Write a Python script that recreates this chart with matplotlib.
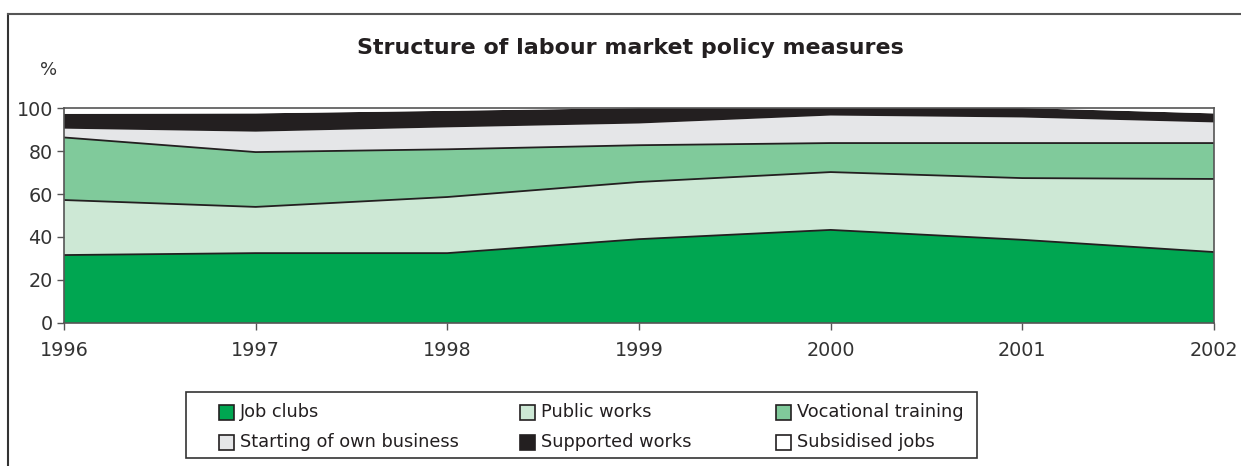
import numpy as np
import matplotlib.pyplot as plt
from matplotlib.patches import Rectangle
from matplotlib.lines import Line2D

plt.rcParams['font.family'] = ['DejaVu Sans']

years = [1996, 1997, 1998, 1999, 2000, 2001, 2002]

# shares of each measure, % of total
job_clubs = [31.6, 32.5, 32.5, 39.0, 43.3, 38.7, 33.0]
public_works = [25.6, 21.5, 26.1, 26.6, 26.9, 28.7, 34.0]
vocational_training = [29.1, 25.5, 22.2, 17.1, 13.5, 16.3, 16.7]
own_business = [4.1, 9.5, 10.2, 10.1, 12.8, 11.9, 9.6]
supported_works = [6.9, 8.5, 7.7, 7.2, 3.5, 4.4, 4.2]
subsidised_jobs = [2.7, 2.5, 1.3, 0.0, 0.0, 0.0, 2.5]

labels = ["Job clubs", "Public works", "Vocational training",
          "Starting of own business", "Supported works", "Subsidised jobs"]
colors = ["#00a651", "#cde8d5", "#80ca9b", "#e5e6e8", "#231f20", "#ffffff"]

series = [job_clubs, public_works, vocational_training,
          own_business, supported_works, subsidised_jobs]

fig = plt.figure(figsize=(12.41, 4.66), dpi=100)

# outer frame (left and top only)
fig.add_artist(Line2D([0.0065, 0.0065], [0, 0.97], color="#333333", lw=1.5,
                      transform=fig.transFigure))
fig.add_artist(Line2D([0.0065, 1.0], [0.97, 0.97], color="#555555", lw=1.5,
                      transform=fig.transFigure))

ax = fig.add_axes([0.0516, 0.3069, 0.9266, 0.4613])
ax.stackplot(years, *series, colors=colors, linewidth=0)

# dark borders between the lower bands
cum = np.cumsum(np.array(series), axis=0)
for row in cum[:3]:
    ax.plot(years, row, color="#231f20", lw=1.3, solid_joinstyle="round")

ax.set_xlim(years[0], years[-1])
ax.set_ylim(0, 100)
ax.set_xticks(years)
ax.set_yticks(range(0, 101, 20))
ax.tick_params(axis="both", labelsize=13.8, color="#555555", length=5,
               width=1, colors="#333333")
ax.tick_params(axis="x", pad=8)
ax.tick_params(axis="y", pad=3)
for s in ax.spines.values():
    s.set_color("#555555")
    s.set_linewidth(1.2)

fig.text(0.508, 0.897, "Structure of labour market policy measures",
         ha="center", va="center", fontsize=15.9, fontweight="bold", color="#231f20")
fig.text(0.039, 0.85, "%", ha="center", va="center", fontsize=13, color="#333333")

# legend box
W, H = 1241.0, 466.0
fig.add_artist(Rectangle((186 / W, 1 - 458 / H), (977 - 186) / W, (458 - 392) / H,
                         transform=fig.transFigure, fill=False,
                         edgecolor="#333333", lw=1.2))
col_x = [219, 520, 776]
row_y = [412, 442]
for i, label in enumerate(labels):
    r, c = divmod(i, 3)
    x = col_x[c]
    y = row_y[r]
    fig.add_artist(Rectangle((x / W, 1 - (y + 7.5) / H), 15 / W, 15 / H,
                             transform=fig.transFigure, facecolor=colors[i],
                             edgecolor="#231f20", lw=1.2))
    fig.text((x + 21) / W, 1 - y / H, label, ha="left", va="center",
             fontsize=12.8, color="#231f20")

fig.savefig("out.png", dpi=100)
